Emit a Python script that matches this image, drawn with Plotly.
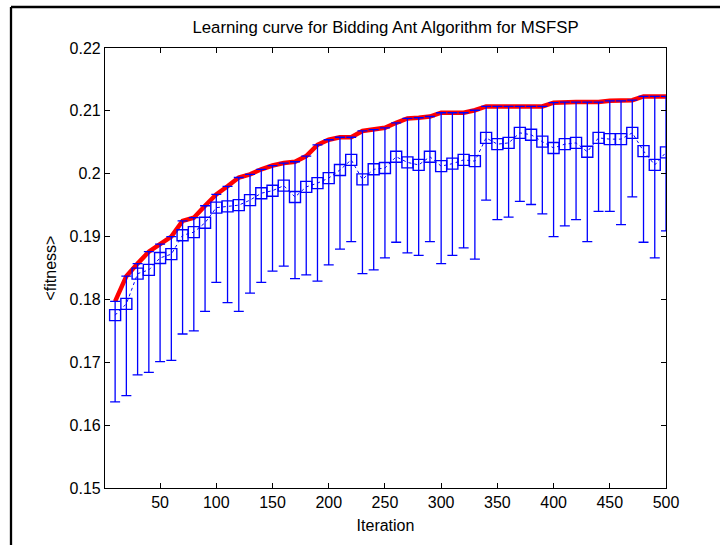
import plotly.graph_objects as go

iterations = list(range(10, 501, 10))

mean_fitness = [
    0.1775, 0.1793, 0.1841, 0.1847, 0.1866, 0.1872, 0.1902, 0.1907, 0.1922, 0.1946,
    0.1948, 0.1950, 0.1958, 0.1969, 0.1973, 0.1981, 0.1963, 0.1979, 0.1985, 0.1993,
    0.2006, 0.2022, 0.1991, 0.2007, 0.2009, 0.2027, 0.2018, 0.2014, 0.2027, 0.2012,
    0.2016, 0.2022, 0.2020, 0.2057, 0.2047, 0.2049, 0.2065, 0.2062, 0.2051, 0.2041,
    0.2047, 0.2049, 0.2035, 0.2057, 0.2055, 0.2055, 0.2065, 0.2036, 0.2014, 0.2034,
]

best_fitness = [
    0.1797, 0.1837, 0.1857, 0.1876, 0.1888, 0.1900, 0.1925, 0.1930, 0.1949, 0.1967,
    0.1980, 0.1994, 0.1999, 0.2007, 0.2013, 0.2017, 0.2019, 0.2028, 0.2046, 0.2054,
    0.2058, 0.2058, 0.2068, 0.2070, 0.2073, 0.2081, 0.2088, 0.2089, 0.2091, 0.2097,
    0.2097, 0.2097, 0.2101, 0.2107, 0.2107, 0.2107, 0.2107, 0.2107, 0.2107, 0.2113,
    0.2114, 0.2114, 0.2114, 0.2114, 0.2116, 0.2116, 0.2117, 0.2123, 0.2123, 0.2123,
]

worst_fitness = [
    0.1637, 0.1647, 0.1680, 0.1684, 0.1701, 0.1703, 0.1745, 0.1750, 0.1781, 0.1827,
    0.1795, 0.1781, 0.1810, 0.1827, 0.1845, 0.1853, 0.1833, 0.1839, 0.1829, 0.1855,
    0.1880, 0.1892, 0.1841, 0.1847, 0.1866, 0.1891, 0.1874, 0.1870, 0.1892, 0.1857,
    0.1870, 0.1882, 0.1864, 0.1958, 0.1927, 0.1931, 0.1956, 0.1951, 0.1936, 0.1900,
    0.1917, 0.1927, 0.1892, 0.1940, 0.1940, 0.1919, 0.1963, 0.1891, 0.1866, 0.1909,
]

x_ticks = [50, 100, 150, 200, 250, 300, 350, 400, 450, 500]
y_ticks = [0.15, 0.16, 0.17, 0.18, 0.19, 0.20, 0.21, 0.22]
y_tick_labels = ["0.15", "0.16", "0.17", "0.18", "0.19", "0.2", "0.21", "0.22"]

err_plus = [b - m for b, m in zip(best_fitness, mean_fitness)]
err_minus = [m - w for m, w in zip(mean_fitness, worst_fitness)]

FONT = "Liberation Sans, Arial, sans-serif"

fig = go.Figure()

fig.add_trace(go.Scatter(
    x=iterations, y=best_fitness, mode="lines",
    line=dict(color="#ff0000", width=4.5),
    showlegend=False, hoverinfo="skip",
))

fig.add_trace(go.Scatter(
    x=iterations, y=mean_fitness, mode="lines+markers",
    line=dict(color="#0000ff", width=1, dash="dot"),
    marker=dict(symbol="square-open", size=11, color="#0000ff",
                line=dict(width=1.4, color="#0000ff")),
    error_y=dict(type="data", symmetric=False, array=err_plus,
                 arrayminus=err_minus, color="#0000ff",
                 thickness=1.3, width=5),
    showlegend=False,
))

axis_common = dict(
    showline=True, linecolor="black", linewidth=1.2, mirror="ticks",
    ticks="inside", ticklen=5, tickcolor="black", tickwidth=1,
    showgrid=False, zeroline=False,
    tickfont=dict(family=FONT, size=16, color="black"),
)

fig.update_xaxes(range=[1, 500], tickvals=x_ticks,
                 title=dict(text="Iteration", font=dict(family=FONT, size=16, color="black"), standoff=9),
                 **axis_common)
fig.update_yaxes(range=[0.15, 0.22], tickvals=y_ticks, ticktext=y_tick_labels,
                 title=dict(text="&lt;fitness&gt;", font=dict(family=FONT, size=16, color="black"), standoff=8),
                 **axis_common)

# outer figure frame (partially visible, top and left edges)
fl = (11 - 105) / 561
ft = (488 - 7) / 440
fig.add_shape(type="line", xref="paper", yref="paper", x0=fl, x1=fl, y0=ft, y1=-0.3,
              line=dict(color="black", width=2.3))
fig.add_shape(type="line", xref="paper", yref="paper", x0=fl, x1=1.3, y0=ft, y1=ft,
              line=dict(color="black", width=2.3))

fig.update_layout(
    width=720, height=545,
    margin=dict(l=105, r=54, t=48, b=57),
    paper_bgcolor="white", plot_bgcolor="white",
    title=dict(text="Learning curve for Bidding Ant Algorithm for MSFSP",
               font=dict(family=FONT, size=16.8, color="black"),
               x=(105 + 666) / 2 / 720, xanchor="center",
               y=1 - 27 / 545, yanchor="middle", yref="container"),
    font=dict(family=FONT, size=16, color="black"),
)

fig.write_html("out.html")
